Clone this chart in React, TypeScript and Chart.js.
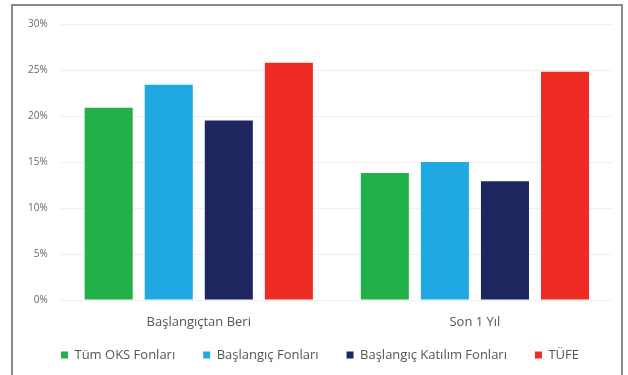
import React, { useEffect, useRef } from "react";
import { Chart, registerables } from "chart.js";

Chart.register(...registerables);

const categories = ["Başlangıçtan Beri", "Son 1 Yıl"];
const seriesNames = ["Tüm OKS Fonları", "Başlangıç Fonları", "Başlangıç Katılım Fonları", "TÜFE"];
const tumOks = [20.9, 13.8];
const baslangic = [23.4, 15.0];
const katilim = [19.5, 12.9];
const tufe = [25.8, 24.8];
const colors = ["#22b04b", "#1fa8e2", "#1e2660", "#ee2c24"];

const FONT = "'Open Sans', 'Noto Sans', sans-serif";

// Pulls the legend row up closer to the category labels while keeping
// the wide horizontal spacing between legend items.
const legendLift = {
  id: "legendLift",
  afterLayout(chart: any) {
    const lg = chart.legend;
    if (lg) {
      lg.top -= 15;
      lg.bottom -= 15;
    }
  },
};

export default function App() {
  const ref = useRef<HTMLCanvasElement | null>(null);

  useEffect(() => {
    document.body.style.margin = "0";
    const ctx = ref.current!;
    const values = [tumOks, baslangic, katilim, tufe];
    const chart = new Chart(ctx, {
      type: "bar",
      data: {
        labels: categories,
        datasets: seriesNames.map((name, i) => ({
          label: name,
          data: values[i],
          backgroundColor: colors[i],
          borderWidth: 0,
          barPercentage: 0.8,
          categoryPercentage: 0.87,
        })),
      },
      plugins: [legendLift],
      options: {
        animation: false,
        responsive: false,
        maintainAspectRatio: false,
        layout: { padding: { left: 15, right: 3, top: 24, bottom: -11.6 } },
        plugins: {
          tooltip: { enabled: false },
          legend: {
            position: "bottom",
            labels: {
              boxWidth: 7,
              boxHeight: 7,
              padding: 28,
              color: "#555",
              font: { family: FONT, size: 13 },
            },
          },
        },
        scales: {
          x: {
            grid: { display: false },
            border: { display: false },
            ticks: { color: "#555", font: { family: FONT, size: 13 }, padding: 6 },
          },
          y: {
            min: 0,
            max: 30,
            ticks: {
              stepSize: 5,
              color: "#666",
              padding: 13,
              font: { family: FONT, size: 10 },
              callback: (v: any) => v + "%",
            },
            grid: { color: "#efefef", drawTicks: false },
            border: { display: false },
          },
          y2: {
            position: "right",
            display: true,
            grid: { display: false, drawTicks: false },
            border: { display: false },
            ticks: { display: false },
            afterFit: (scale: any) => {
              scale.width = 12;
            },
          },
        },
      },
    });
    return () => chart.destroy();
  }, []);

  return (
    <div style={{ position: "relative", width: 628, height: 375, background: "#fff", overflow: "hidden" }}>
      <canvas ref={ref} width={628} height={375} style={{ position: "absolute", left: 0, top: 0 }} />
      <div
        style={{
          position: "absolute",
          left: 11,
          top: 4,
          width: 612,
          height: 380,
          border: "2px solid #8a8a8a",
          boxSizing: "border-box",
          pointerEvents: "none",
        }}
      />
    </div>
  );
}
